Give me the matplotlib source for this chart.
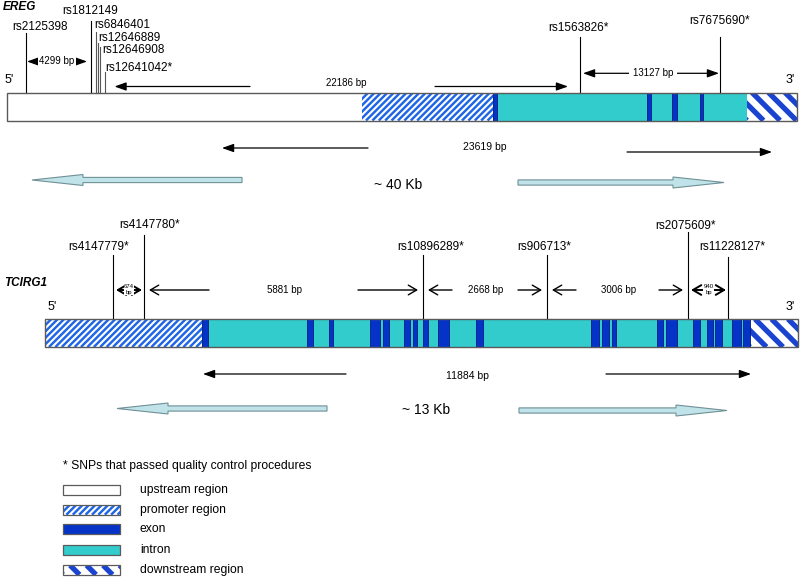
import numpy as np
import matplotlib
matplotlib.use("Agg")
import matplotlib.pyplot as plt
from matplotlib.patches import Rectangle, Polygon

plt.rcParams["font.family"] = ["Liberation Sans", "DejaVu Sans"]

# ---- data (diagram units = horizontal pixel positions) ----
# EREG
ereg_regions = ["upstream", "promoter", "intron", "downstream"]
ereg_bounds = [7, 362, 493, 747, 797]
ereg_exons = [(493, 497), (647, 651), (672, 677), (700, 703)]
ereg_snps = ["rs2125398", "rs1812149", "rs6846401", "rs12646889",
             "rs12646908", "rs12641042*", "rs1563826*", "rs7675690*"]
ereg_snp_pos = [26, 91, 96, 97.5, 99.5, 104.5, 580, 720]
ereg_dist_labels = ["4299 bp", "22186 bp", "13127 bp"]
ereg_dist_pairs = [(0, 1), (5, 6), (6, 7)]
ereg_span_label = "23619 bp"
ereg_size_label = "~ 40 Kb"

# TCIRG1
tcirg_regions = ["promoter", "intron", "downstream"]
tcirg_bounds = [45, 202, 750, 798]
tcirg_exons = [(202, 208), (307, 313), (329, 333), (370, 380), (383, 389),
               (404, 410), (413, 417), (423, 428), (438, 449), (476, 483),
               (591, 599), (602, 609), (612, 616), (657, 663), (666, 677),
               (693, 700), (707, 713), (715, 722), (732, 741), (743, 750)]
tcirg_snps = ["rs4147779*", "rs4147780*", "rs10896289*", "rs906713*",
              "rs2075609*", "rs11228127*"]
tcirg_snp_pos = [113, 144, 423, 547, 688, 728]
tcirg_dist_labels = ["674\nbp", "5881 bp", "2668 bp", "3006 bp", "940\nbp"]
tcirg_span_label = "11884 bp"
tcirg_size_label = "~ 13 Kb"

legend_labels = ["upstream region", "promoter region", "exon", "intron",
                 "downstream region"]
legend_kinds = ["upstream", "promoter", "exon", "intron", "downstream"]

# ---- styles ----
INTRON = "#33cccc"
EXON = "#0533c8"
EXON_EDGE = "#001a80"
PROM_BLUE = "#1f66e6"
DOWN_BLUE = "#1a44d0"
OUTLINE = "#5a5a5a"
ARROW_FILL = "#bfe3e8"
ARROW_EDGE = "#6f9096"

fig = plt.figure(figsize=(8, 5.77), dpi=100)
ax = fig.add_axes([0, 0, 1, 1])
ax.set_xlim(0, 800)
ax.set_ylim(577, 0)
ax.axis("off")
fig.patch.set_facecolor("white")


def stripes(x0, x1, y0, y1, kind):
    h = y1 - y0
    clip = Rectangle((x0, y0), x1 - x0, h, transform=ax.transData)
    if kind == "promoter":
        period, lw, col = 6.4, 1.75, PROM_BLUE
        for s in np.arange(x0 - h, x1 + h, period):
            ln, = ax.plot([s, s + h], [y1, y0], color=col, lw=lw,
                          solid_capstyle="butt", zorder=3)
            ln.set_clip_path(clip)
    else:
        period, lw, col = 16.5, 3.8, DOWN_BLUE
        for s in np.arange(x0 - h, x1 + h, period):
            ln, = ax.plot([s, s + h], [y0, y1], color=col, lw=lw,
                          solid_capstyle="butt", zorder=3)
            ln.set_clip_path(clip)


def box(x0, x1, y0, y1, kind):
    if kind == "exon":
        ax.add_patch(Rectangle((x0, y0), x1 - x0, y1 - y0, fc=EXON,
                               ec=EXON_EDGE, lw=0.6, zorder=4))
        return
    fc = INTRON if kind == "intron" else "white"
    ax.add_patch(Rectangle((x0, y0), x1 - x0, y1 - y0, fc=fc, ec="none",
                           zorder=2))
    if kind in ("promoter", "downstream"):
        stripes(x0, x1, y0, y1, kind)


def gene_bar(bounds, regions, exons, y0, y1):
    for i, kind in enumerate(regions):
        box(bounds[i], bounds[i + 1], y0, y1, kind)
    for a, b in exons:
        box(a, b, y0, y1, "exon")
    ax.add_patch(Rectangle((bounds[0], y0), bounds[-1] - bounds[0], y1 - y0,
                           fc="none", ec=OUTLINE, lw=1.0, zorder=6))


def arrow(x_from, x_to, y, filled=True, lw=0.9):
    style = ("-|>,head_length=0.7,head_width=0.25" if filled
             else "->,head_length=0.6,head_width=0.35")
    ax.annotate("", xy=(x_to, y), xytext=(x_from, y),
                arrowprops=dict(arrowstyle=style, color="black", lw=lw,
                                shrinkA=0, shrinkB=0, mutation_scale=10),
                zorder=5)


def big_arrow(tail, tip, y):
    d = 1 if tip > tail else -1
    hl, sh, hh = 51, 2.6, 5.5
    base = tip - d * hl
    pts = [(tail, y - sh), (base, y - sh), (base, y - hh), (tip, y),
           (base, y + hh), (base, y + sh), (tail, y + sh)]
    ax.add_patch(Polygon(pts, closed=True, fc=ARROW_FILL, ec=ARROW_EDGE,
                         lw=0.8, zorder=3))


def snp(x, top, bottom, color="black"):
    ax.plot([x, x], [top, bottom], color=color, lw=0.8, zorder=5)


SNP_FS = 8.5

# ================= EREG =================
EY0, EY1 = 92.5, 120.5
gene_bar(ereg_bounds, ereg_regions, ereg_exons, EY0, EY1)
ax.text(3, 6.5, "EREG", fontsize=8.5, fontweight="bold", fontstyle="italic",
        va="center", ha="left")
ax.text(5, 80, "5'", fontsize=9, va="center", ha="left")
ax.text(786, 80, "3'", fontsize=9, va="center", ha="left")

ereg_line_top = [33, 21, 32, 43, 47, 72, 37, 37]
ereg_line_col = ["black", "black", "#555555", "#555555", "#555555",
                 "#555555", "black", "black"]
ereg_lab_x = [12, 62, 94, 98, 102, 105, 548, 689]
ereg_lab_y = [27.5, 11, 25, 38, 50, 68, 28, 21.5]
for name, x, top, col, lx, ly in zip(ereg_snps, ereg_snp_pos, ereg_line_top,
                                     ereg_line_col, ereg_lab_x, ereg_lab_y):
    snp(x, top, EY0, col)
    ax.text(lx, ly, name, fontsize=SNP_FS, va="center", ha="left")

# 4299 bp
a, b = ereg_dist_pairs[0]
xa, xb = ereg_snp_pos[a] + 1, ereg_snp_pos[b] - 4
ym = 61.5
arrow((xa + xb) / 2, xa, ym)
arrow((xa + xb) / 2, xb, ym)
ax.text((xa + xb) / 2, ym, ereg_dist_labels[0], fontsize=7, ha="center",
        va="center", zorder=6,
        bbox=dict(fc="white", ec="none", pad=1.2))
# 22186 bp
a, b = ereg_dist_pairs[1]
ym = 86.5
arrow(250, ereg_snp_pos[a] + 10, ym)
arrow(435, ereg_snp_pos[b] - 12, ym)
ax.text(346, 83, ereg_dist_labels[1], fontsize=7, ha="center", va="center")
# 13127 bp
a, b = ereg_dist_pairs[2]
xa, xb = ereg_snp_pos[a] + 3, ereg_snp_pos[b] - 1
ym = 73.3
arrow((xa + xb) / 2, xa, ym)
arrow((xa + xb) / 2, xb, ym)
ax.text((xa + xb) / 2 + 2, ym, ereg_dist_labels[2], fontsize=7,
        ha="center", va="center", zorder=6,
        bbox=dict(fc="white", ec="none", pad=3))

# span and size
arrow(368, 222, 148)
arrow(627, 772, 152)
ax.text(485, 147, ereg_span_label, fontsize=7.5, ha="center", va="center")
big_arrow(242, 32, 180)
big_arrow(518, 724, 182.5)
ax.text(398, 185, ereg_size_label, fontsize=10, ha="center", va="center")

# ================= TCIRG1 =================
TY0, TY1 = 319, 347
gene_bar(tcirg_bounds, tcirg_regions, tcirg_exons, TY0, TY1)
ax.text(4, 283, "TCIRG1", fontsize=8.5, fontweight="bold",
        fontstyle="italic", va="center", ha="left")
ax.text(48, 307, "5'", fontsize=9, va="center", ha="left")
ax.text(786, 307, "3'", fontsize=9, va="center", ha="left")

tcirg_line_top = [255, 235, 255, 255, 232, 257]
tcirg_lab_x = [99, 150, 431, 544, 685, 732]
tcirg_lab_y = [247, 225, 247, 247, 226, 247]
for name, x, top, lx, ly in zip(tcirg_snps, tcirg_snp_pos, tcirg_line_top,
                                tcirg_lab_x, tcirg_lab_y):
    snp(x, top, TY0)
    ax.text(lx, ly, name, fontsize=SNP_FS, va="center", ha="center")

ym = 290
arrow_len = [0, 60, 24, 24, 0]
for i, lab in enumerate(tcirg_dist_labels):
    xa, xb = tcirg_snp_pos[i], tcirg_snp_pos[i + 1]
    mid = (xa + xb) / 2
    if arrow_len[i] == 0:
        arrow(mid, xa + 3, ym, filled=False, lw=1.4)
        arrow(mid, xb - 2, ym, filled=False, lw=1.4)
        ax.text(mid + 0.5, ym - 0.5, lab, fontsize=4.3, ha="center",
                va="center", linespacing=1.3, zorder=6,
                bbox=dict(fc="white", ec="none", pad=0.2))
    else:
        arrow(xa + 5 + arrow_len[i], xa + 5, ym, filled=False, lw=1.0)
        arrow(xb - 5 - arrow_len[i], xb - 5, ym, filled=False, lw=1.0)
        ax.text(mid + 1, ym, lab, fontsize=7, ha="center", va="center")

arrow(346, 203, 374)
arrow(606, 751, 374)
ax.text(467, 376, tcirg_span_label, fontsize=7.5, ha="center", va="center")
big_arrow(327, 117, 408.5)
big_arrow(519, 727, 410.5)
ax.text(426, 410, tcirg_size_label, fontsize=10, ha="center", va="center")

# ================= legend =================
ax.text(63, 466, "* SNPs that passed quality control procedures",
        fontsize=8.7, ha="left", va="center")
leg_y = [490, 510, 529, 550, 570]
for kind, lab, y in zip(legend_kinds, legend_labels, leg_y):
    box(63, 120, y - 4.7, y + 4.7, kind)
    ax.add_patch(Rectangle((63, y - 4.7), 57, 9.4, fc="none", ec=OUTLINE,
                           lw=0.9, zorder=6))
    ax.text(140, y, lab, fontsize=8.7, ha="left", va="center")

fig.savefig("out.png", dpi=100)
